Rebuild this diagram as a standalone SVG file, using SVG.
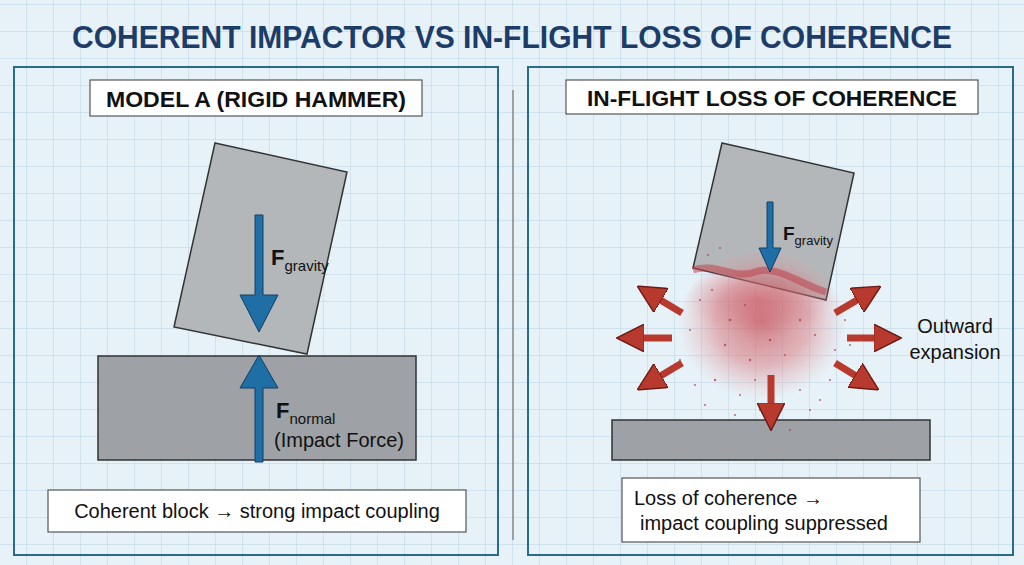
<svg xmlns="http://www.w3.org/2000/svg" width="1024" height="565" viewBox="0 0 1024 565">
<defs>
<pattern id="grid" width="27" height="27" patternUnits="userSpaceOnUse" x="0" y="5">
<path d="M27 0V27M0 27H27" fill="none" stroke="#b9d3e2" stroke-width="1"/>
</pattern>
<radialGradient id="cloud" cx="0.5" cy="0.45" r="0.5">
<stop offset="0" stop-color="#c84a52" stop-opacity="0.7"/>
<stop offset="0.55" stop-color="#d7767c" stop-opacity="0.5"/>
<stop offset="1" stop-color="#e8a0a4" stop-opacity="0"/>
</radialGradient>
<radialGradient id="band" cx="0.5" cy="0.5" r="0.5">
<stop offset="0" stop-color="#c8505a" stop-opacity="0.45"/>
<stop offset="1" stop-color="#c8505a" stop-opacity="0"/>
</radialGradient>
<marker id="rh" viewBox="0 0 10 10" refX="8" refY="5" markerWidth="4" markerHeight="4" orient="auto"><path d="M0 0L10 5L0 10z" fill="#b83a2e" stroke="#6a1a14" stroke-width="0.5"/></marker>
</defs>
<style>
.panel{fill:none;stroke:#2a6a8a;stroke-width:2}
.lbl{fill:#fff;stroke:#555;stroke-width:1.2}
.t{font-family:"Liberation Sans",Arial,sans-serif;fill:#111}
.hd{font-family:"Liberation Sans",Arial,sans-serif;font-weight:bold;fill:#111}
.blk{fill:#b4b7ba;stroke:#333;stroke-width:1.5}
.base{fill:#9ea1a5;stroke:#333;stroke-width:1.5}
.ba{fill:#1f6ea6;stroke:#123e60;stroke-width:1}
.ra{stroke:#b83a2e;stroke-width:7;fill:none;marker-end:url(#rh)}
</style>
<rect width="1024" height="565" fill="#e6f2f8"/>
<rect width="1024" height="565" fill="url(#grid)"/>
<text x="512" y="48" text-anchor="middle" font-family="Liberation Sans,Arial,sans-serif" font-weight="bold" font-size="32" fill="#1d3c68" textLength="880" lengthAdjust="spacingAndGlyphs">COHERENT IMPACTOR VS IN-FLIGHT LOSS OF COHERENCE</text>
<rect class="panel" x="14" y="67" width="484" height="488"/>
<rect class="panel" x="528" y="67" width="485" height="488"/>
<line x1="513" y1="90" x2="513" y2="540" stroke="#888" stroke-width="1.5"/>
<g id="left-title"><rect class="lbl" x="90" y="80" width="332" height="36"/>
<text class="hd" x="256" y="107" text-anchor="middle" font-size="22" textLength="300" lengthAdjust="spacingAndGlyphs">MODEL A (RIGID HAMMER)</text></g>
<g id="right-title"><rect class="lbl" x="566" y="80" width="412" height="34"/>
<text class="hd" x="772" y="106" text-anchor="middle" font-size="22" textLength="370" lengthAdjust="spacingAndGlyphs">IN-FLIGHT LOSS OF COHERENCE</text></g>
<g id="left-base"><rect class="base" x="98" y="356" width="318" height="104"/></g>
<g id="left-block"><polygon class="blk" points="215,143 347,172 307,354 174,327"/></g>
<g id="left-forces">
<polygon class="ba" points="255,215 263,215 263,295 278,295 259,332 240,295 255,295"/>
<polygon class="ba" points="259,355 278,388 263,388 263,462 255,462 255,388 240,388"/>
<text class="hd" x="271" y="265" font-size="22">F<tspan font-weight="normal" font-size="15" dy="6">gravity</tspan></text>
<text class="hd" x="276" y="418" font-size="22">F<tspan font-weight="normal" font-size="15" dy="6">normal</tspan></text>
<text class="t" x="274" y="447" font-size="20">(Impact Force)</text>
</g>
<g id="left-caption"><rect class="lbl" x="48" y="490" width="418" height="42"/>
<text class="t" x="257" y="518" text-anchor="middle" font-size="20">Coherent block → strong impact coupling</text></g>
<g id="right-base"><rect class="base" x="612" y="420" width="318" height="40"/></g>
<g id="right-block"><polygon class="blk" points="722,143 854,173 826,300 693,268"/></g>
<g id="cloud-g">
<ellipse cx="762" cy="330" rx="85" ry="78" fill="url(#cloud)"/>
<ellipse cx="760" cy="300" rx="75" ry="35" fill="url(#band)"/>
<path d="M693,270 C715,262 735,280 755,272 C775,264 800,284 826,292" fill="none" stroke="#c0404a" stroke-width="7" opacity="0.55"/>
<g fill="#b03a44" opacity="0.75">
<circle cx="700" cy="300" r="1"/><circle cx="690" cy="330" r="1"/><circle cx="715" cy="380" r="1.2"/><circle cx="740" cy="395" r="1"/><circle cx="800" cy="390" r="1"/><circle cx="835" cy="350" r="1"/><circle cx="845" cy="320" r="1"/><circle cx="680" cy="360" r="1"/><circle cx="760" cy="410" r="1"/><circle cx="820" cy="400" r="1"/><circle cx="705" cy="405" r="1"/><circle cx="790" cy="430" r="1"/><circle cx="730" cy="320" r="1.3"/><circle cx="770" cy="340" r="1.3"/><circle cx="800" cy="320" r="1.2"/><circle cx="750" cy="360" r="1.2"/>
<circle cx="712" cy="290" r="1"/><circle cx="725" cy="345" r="1.2"/><circle cx="785" cy="355" r="1"/><circle cx="815" cy="335" r="1.1"/><circle cx="745" cy="305" r="1"/><circle cx="695" cy="385" r="1"/><circle cx="830" cy="380" r="1"/><circle cx="755" cy="380" r="1"/><circle cx="708" cy="255" r="1"/><circle cx="720" cy="248" r="1"/><circle cx="810" cy="410" r="1"/><circle cx="735" cy="415" r="1"/><circle cx="675" cy="310" r="1"/><circle cx="850" cy="345" r="1"/>
</g>
</g>
<g id="right-force">
<polygon class="ba" points="767,202 773,202 773,248 781,248 770,272 759,248 767,248"/>
<text class="hd" x="783" y="240" font-size="19">F<tspan font-weight="normal" font-size="13" dy="5">gravity</tspan></text>
</g>
<g id="expansion-arrows">
<line class="ra" x1="682" y1="313" x2="642" y2="289"/>
<line class="ra" x1="672" y1="338" x2="622" y2="338"/>
<line class="ra" x1="682" y1="363" x2="642" y2="387"/>
<line class="ra" x1="771" y1="375" x2="771" y2="425"/>
<line class="ra" x1="835" y1="313" x2="876" y2="289"/>
<line class="ra" x1="847" y1="338" x2="896" y2="338"/>
<line class="ra" x1="835" y1="363" x2="874" y2="387"/>
</g>
<text class="t" x="955" y="333" text-anchor="middle" font-size="20">Outward</text>
<text class="t" x="955" y="359" text-anchor="middle" font-size="20">expansion</text>
<g id="right-caption"><rect class="lbl" x="622" y="478" width="298" height="64"/>
<text class="t" x="634" y="505" font-size="20">Loss of coherence  →</text>
<text class="t" x="640" y="530" font-size="20">impact coupling suppressed</text></g>
</svg>
